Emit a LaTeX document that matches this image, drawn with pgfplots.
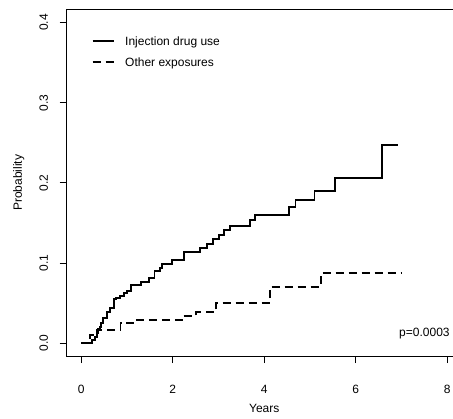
\documentclass[border=0pt]{standalone}
\usepackage{fontspec}
\setmainfont{Liberation Sans}
\usepackage{pgfplots}
\pgfplotsset{compat=1.18}

\begin{document}
\fontsize{12}{14}\selectfont
\begin{tikzpicture}
\begin{axis}[
    scale only axis,
    width=395.1pt, height=346.4pt,
    xmin=-0.32, xmax=8.32,
    ymin=-0.016, ymax=0.416,
    xtick={0,2,4,6,8}, xticklabels={0,2,4,6,8},
    ytick={0,0.1,0.2,0.3,0.4}, yticklabels={0.0,0.1,0.2,0.3,0.4},
    xtick pos=bottom, ytick pos=left,
    tick align=outside, major tick length=7pt,
    tick style={black, line width=0.8pt},
    axis line style={line width=0.8pt},
    xticklabel style={anchor=base, yshift=-30.5pt},
    yticklabel style={xshift=-11.7pt, rotate=90, anchor=base},
    every axis x label/.style={at={(axis description cs:0.5,0)}, anchor=base, yshift=-56.4pt},
    every axis y label/.style={at={(axis description cs:0,0.5)}, xshift=-44.8pt, rotate=90, anchor=base},
    xlabel={Years}, ylabel={Probability},
    legend image code/.code={\draw[#1] (0pt,0pt) -- (21.6pt,0pt);},
    legend cell align=left,
    legend style={draw=none, fill=none, inner sep=0pt, outer sep=0pt,
        at={(axis description cs:0.0633,0.9229)}, anchor=north west,
        column sep=10pt, row sep=13pt,
        nodes={inner sep=0pt, text height=8.6pt, text depth=0pt}},
]

% Injection drug use
\addplot[const plot, black, line width=1.9pt] coordinates {
    (0,0) (0.239,0.0042) (0.305,0.0083) (0.334,0.0133) (0.363,0.0174)
    (0.407,0.0208) (0.436,0.0249) (0.465,0.032) (0.567,0.0395) (0.625,0.0436)
    (0.712,0.0548) (0.749,0.056) (0.843,0.0594) (0.930,0.0631) (1.003,0.0656)
    (1.090,0.0727) (1.308,0.0768) (1.483,0.081) (1.599,0.0901) (1.730,0.0943)
    (1.766,0.0989) (1.985,0.1038) (2.254,0.1142) (2.603,0.1184) (2.748,0.1238)
    (2.879,0.130) (3.003,0.135) (3.112,0.1412) (3.257,0.1466) (3.694,0.1537)
    (3.788,0.160) (4.537,0.1695) (4.683,0.1786) (5.098,0.1898) (5.556,0.2056)
    (6.581,0.2476) (6.93,0.2476)
};
\addlegendentry{Injection drug use}

% Other exposures
\addplot[const plot, black, line width=1.9pt, dash pattern=on 8pt off 5pt] coordinates {
    (0,0) (0.188,0.0104) (0.334,0.0166) (0.857,0.0249) (1.184,0.0291)
    (2.225,0.0345) (2.516,0.0386) (2.952,0.0507) (4.13,0.0706) (5.236,0.0881)
    (7.0,0.0881)
};
\addlegendentry{Other exposures}

\node[anchor=base east, inner sep=0pt] at (axis cs:8.058,0.0085) {p=0.0003};
\end{axis}
\pgfresetboundingbox
\path (-66.7pt,-62.9pt) rectangle (386.3pt,356.1pt);
\end{tikzpicture}
\end{document}
